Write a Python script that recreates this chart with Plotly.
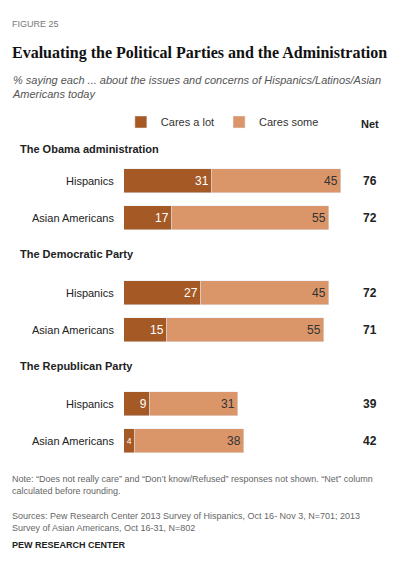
import plotly.graph_objects as go

groups = ["Hispanics", "Asian Americans", "Hispanics", "Asian Americans", "Hispanics", "Asian Americans"]
cares_lot = [31, 17, 27, 15, 9, 4]
cares_some = [45, 55, 45, 55, 31, 38]
net = [76, 72, 72, 71, 39, 42]
headers = ["The Obama administration", "The Democratic Party", "The Republican Party"]

W, H = 418, 561
ypos = [173, 210, 285, 322, 396, 433]
hdr_y = [141, 246, 358]
DARK, LIGHT = "#A55A26", "#DA9669"
F = "Liberation Sans"

fig = go.Figure()
fig.add_bar(y=ypos, x=cares_lot, orientation="h", name="Cares a lot", marker_color=DARK,
            width=24, text=cares_lot, textposition="inside", insidetextanchor="end",
            textfont=dict(color="white", size=12, family=F), cliponaxis=False)
fig.add_bar(y=ypos, x=cares_some, orientation="h", name="Cares some", marker_color=LIGHT,
            width=24, text=cares_some, textposition="inside", insidetextanchor="end",
            textfont=dict(color="#333", size=12, family=F), cliponaxis=False)

x0, x1 = 116 / W, (116 + 285) / W
fig.update_layout(
    width=W, height=H, margin=dict(l=0, r=0, t=0, b=0), barmode="stack",
    plot_bgcolor="white", paper_bgcolor="white", bargap=0,
    xaxis=dict(domain=[x0, x1], range=[0, 100], visible=False, fixedrange=True),
    yaxis=dict(range=[H, 0], visible=False, fixedrange=True),
    showlegend=True,
    legend=dict(orientation="h", x=0.27, y=1 - 114 / H, yanchor="middle", xanchor="left",
                font=dict(family=F, size=11, color="#333"), itemwidth=30, traceorder="normal"),
    font=dict(family=F),
)

def ann(text, x, y, size=12, color="#222", xanchor="left", family=F):
    fig.add_annotation(text=text, x=x / W, y=1 - y / H, xref="paper", yref="paper",
                       showarrow=False, xanchor=xanchor, yanchor="middle",
                       font=dict(family=family, size=size, color=color), align="left")

for g, y in zip(groups, ypos):
    ann(g, 108, y, xanchor="right", size=11)
for n, y in zip(net, ypos):
    ann(f"<b>{n}</b>", 362, y, xanchor="center", size=12)
for h, y in zip(headers, hdr_y):
    ann(f"<b>{h}</b>", 10, y, size=11)
ann("<b>Net</b>", 362, 116, xanchor="center", size=11)
ann("FIGURE 25", 2, 16, size=9, color="#777")
ann("<b>Evaluating the Political Parties and the Administration</b>", 2, 45, size=16, color="#111",
    family="Liberation Sans Narrow")
ann("<i>% saying each ... about the issues and concerns of Hispanics/Latinos/Asian<br>Americans today</i>",
    2, 79, size=11, color="#555")
ann("Note: “Does not really care” and “Don’t know/Refused” responses not shown. “Net” column<br>calculated before rounding.",
    2, 477, size=9, color="#666")
ann("Sources: Pew Research Center 2013 Survey of Hispanics, Oct 16- Nov 3, N=701; 2013<br>Survey of Asian Americans, Oct 16-31, N=802",
    2, 514, size=9, color="#666")
ann("<b>PEW RESEARCH CENTER</b>", 2, 537, size=9, color="#222")

fig.write_html("out.html")
